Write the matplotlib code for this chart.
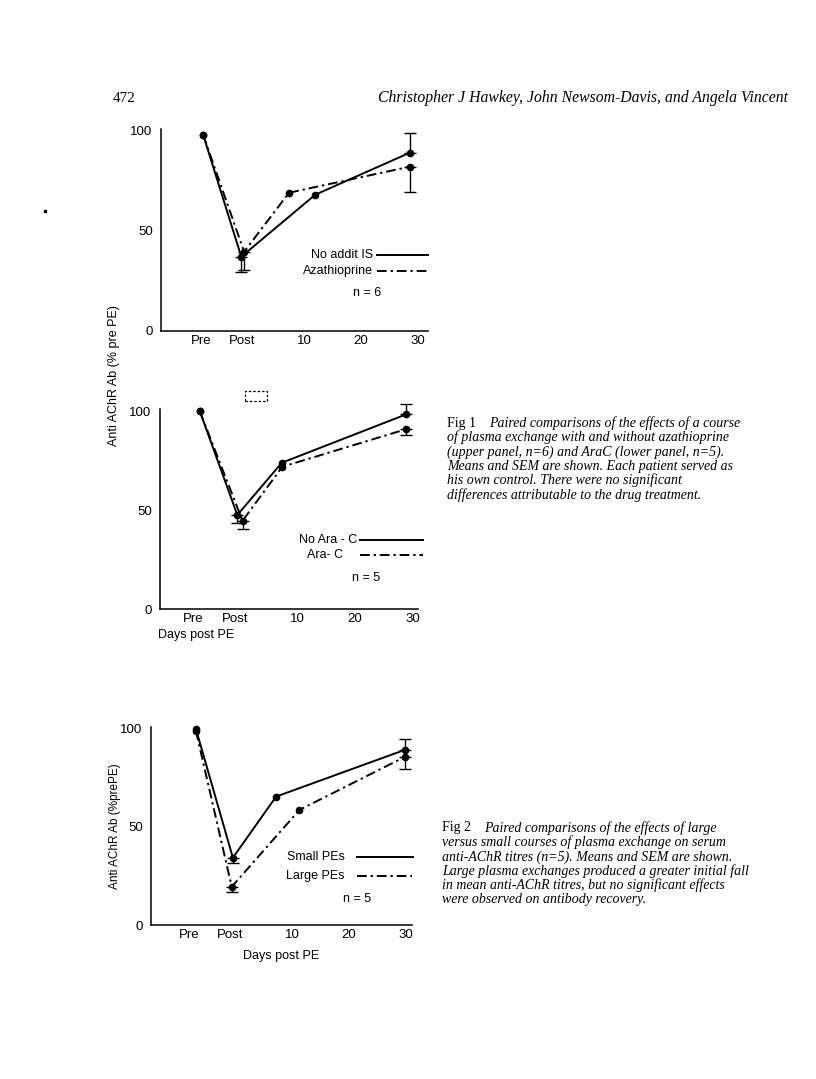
import numpy as np
import matplotlib
matplotlib.use("Agg")
import matplotlib.pyplot as plt
from matplotlib.lines import Line2D
from matplotlib.patches import Rectangle

W, H = 816, 1079
SANS = "Liberation Sans"
SERIF = "Liberation Serif"

tick_pos = [-8, -0.8, 10, 20, 30]
tick_labels = ["Pre", "Post", "10", "20", "30"]

# Fig 1 upper panel: no additional IS vs azathioprine (n=6)
aza_ctrl_days = [-7.7, -1.0, 12.0, 28.6]
aza_ctrl = [98, 37, 68, 89]
aza_ctrl_lo = [0, 7.5, 0, 0]
aza_ctrl_hi = [0, 0, 0, 10]
aza_drug_days = [-7.7, -0.5, 7.4, 28.6]
aza_drug = [98, 39.5, 69, 82]
aza_drug_lo = [0, 9.2, 0, 12.5]
aza_drug_hi = [0, 0, 0, 0]

# Fig 1 lower panel: no Ara-C vs Ara-C (n=5)
ara_ctrl_days = [-6.9, -0.4, 7.3, 28.9]
ara_ctrl = [100, 47.6, 74, 98.5]
ara_ctrl_lo = [0, 4.2, 0, 0]
ara_ctrl_hi = [0, 0, 0, 5.3]
ara_drug_days = [-6.9, 0.5, 7.4, 28.9]
ara_drug = [100, 44.7, 72, 91]
ara_drug_lo = [0, 4.3, 0, 3.2]
ara_drug_hi = [0, 0, 0, 0]

# Fig 2: small vs large PEs (n=5)
small_days = [-6.9, -0.4, 7.2, 29.8]
small = [100, 34.3, 65.5, 89.3]
small_lo = [0, 2.8, 0, 0]
small_hi = [0, 0, 0, 5.6]
large_days = [-6.9, -0.6, 11.3, 29.8]
large = [99, 19.5, 58.7, 85.7]
large_lo = [0, 2.5, 0, 6.1]
large_hi = [0, 0, 0, 0]

DASHDOT = (0, (5, 2, 1.2, 2))

fig = plt.figure(figsize=(W / 100, H / 100), dpi=100)


def fx(x):
    return x / W


def fy(y):
    return 1 - y / H


def panel(x0, x1, xlim, ybot, ytop, ylim=(0, 101)):
    ax = fig.add_axes([fx(x0), fy(ybot), (x1 - x0) / W, (ybot - ytop) / H])
    ax.set_xlim(*xlim)
    ax.set_ylim(*ylim)
    for s in ["top", "right"]:
        ax.spines[s].set_visible(False)
    for s in ["left", "bottom"]:
        ax.spines[s].set_linewidth(1.1)
    ax.set_yticks([0, 50, 100])
    ax.set_xticks(tick_pos)
    ax.set_xticklabels(tick_labels)
    ax.tick_params(axis="y", length=0, pad=6, labelsize=9.5)
    ax.tick_params(axis="x", length=0, pad=3, labelsize=9.5)
    for lab in ax.get_xticklabels() + ax.get_yticklabels():
        lab.set_family(SANS)
    ax.patch.set_alpha(0)
    return ax


def series(ax, days, vals, lo, hi, ls):
    ax.plot(days, vals, color="black", lw=1.4, ls=ls, marker="o", ms=4.5,
            clip_on=False)
    d = np.array(days)
    v = np.array(vals)
    lo = np.array(lo)
    hi = np.array(hi)
    m = (lo > 0) | (hi > 0)
    ax.errorbar(d[m], v[m], yerr=[lo[m], hi[m]], fmt="none", ecolor="black",
                elinewidth=1.0, capsize=4, capthick=1.0, clip_on=False)


def legend_item(x_end, x0, x1, y, label, ls):
    fig.text(fx(x_end), fy(y), label, family=SANS, fontsize=9,
             ha="right", va="center")
    fig.add_artist(Line2D([fx(x0), fx(x1)], [fy(y), fy(y)], color="black",
                          lw=1.4, ls=ls, transform=fig.transFigure))


# upper panel
ax1 = panel(161, 428, (-15.1, 31.8), 330.7, 128.7)
series(ax1, aza_ctrl_days, aza_ctrl, aza_ctrl_lo, aza_ctrl_hi, "-")
series(ax1, aza_drug_days, aza_drug, aza_drug_lo, aza_drug_hi, DASHDOT)
legend_item(373, 377, 428, 255, "No addit IS", "-")
legend_item(373, 377, 428, 271, "Azathioprine", DASHDOT)
fig.text(fx(353), fy(293), "n = 6", family=SANS, fontsize=9, va="center")

# lower panel
ax2 = panel(160, 418, (-13.8, 30.9), 609.3, 409.3)
series(ax2, ara_ctrl_days, ara_ctrl, ara_ctrl_lo, ara_ctrl_hi, "-")
series(ax2, ara_drug_days, ara_drug, ara_drug_lo, ara_drug_hi, DASHDOT)
legend_item(357, 360, 423, 540, "No Ara - C", "-")
legend_item(343, 360, 423, 555, "Ara- C", DASHDOT)
fig.text(fx(352), fy(578), "n = 5", family=SANS, fontsize=9, va="center")
fig.text(fx(158), fy(635), "Days post PE", family=SANS, fontsize=9, va="center")
fig.add_artist(Rectangle((fx(245), fy(401)), 22 / W, 10 / H, fill=False,
                         ls=(0, (2, 1.5)), lw=0.9, transform=fig.transFigure))

fig.text(fx(114), fy(376), "Anti AChR Ab (% pre PE)", family=SANS, fontsize=9,
         rotation=90, ha="center", va="center")

# Fig 2
ax3 = panel(151, 412, (-14.8, 31.1), 925, 727)
series(ax3, small_days, small, small_lo, small_hi, "-")
series(ax3, large_days, large, large_lo, large_hi, DASHDOT)
legend_item(345, 357, 413, 857, "Small PEs", "-")
legend_item(345, 357, 412, 876, "Large PEs", DASHDOT)
fig.text(fx(343), fy(899), "n = 5", family=SANS, fontsize=9, va="center")
fig.text(fx(281), fy(956), "Days post PE", family=SANS, fontsize=9,
         ha="center", va="center")
fig.text(fx(115), fy(826), "Anti AChR Ab (%prePE)", family=SANS, fontsize=8.5,
         rotation=90, ha="center", va="center")

# page header
fig.text(fx(113), fy(98), "472", family=SERIF, fontsize=11, va="center")
fig.text(fx(788), fy(98), "Christopher J Hawkey, John Newsom-Davis, and Angela Vincent",
         family=SERIF, style="italic", fontsize=11.3, ha="right", va="center")
fig.add_artist(Line2D([fx(45)], [fy(211)], marker="s", ms=1.8, color="black",
                      transform=fig.transFigure))

# captions
cap1 = ["of plasma exchange with and without azathioprine",
        "(upper panel, n=6) and AraC (lower panel, n=5).",
        "Means and SEM are shown. Each patient served as",
        "his own control. There were no significant",
        "differences attributable to the drug treatment."]
cap2 = ["versus small courses of plasma exchange on serum",
        "anti-AChR titres (n=5). Means and SEM are shown.",
        "Large plasma exchanges produced a greater initial fall",
        "in mean anti-AChR titres, but no significant effects",
        "were observed on antibody recovery."]


def caption(x, y, head, first, rest):
    fig.text(fx(x), fy(y), head, family=SERIF, fontsize=10, va="center")
    fig.text(fx(x + 42), fy(y), first, family=SERIF, style="italic",
             fontsize=10, va="center")
    for i, line in enumerate(rest):
        fig.text(fx(x), fy(y + 14.4 * (i + 1)), line, family=SERIF,
                 style="italic", fontsize=10, va="center")


caption(447, 423, "Fig 1", "Paired comparisons of the effects of a course", cap1)
caption(442, 828, "Fig 2", "Paired comparisons of the effects of large", cap2)

fig.savefig("out.png", dpi=100)
